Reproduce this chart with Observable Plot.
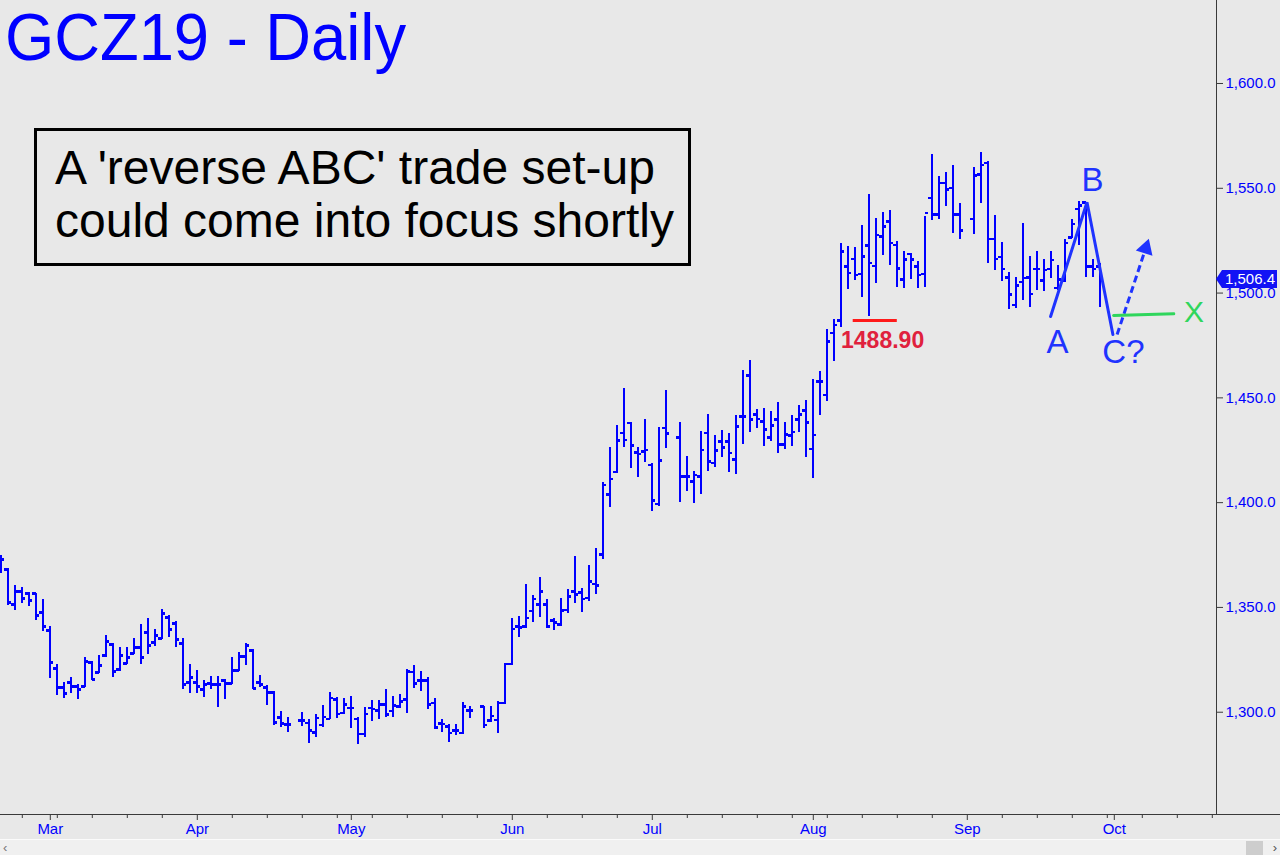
<!DOCTYPE html>
<html>
<head>
<meta charset="utf-8">
<script src="https://cdn.jsdelivr.net/npm/d3@7"></script>
<script src="https://cdn.jsdelivr.net/npm/@observablehq/plot@0.6"></script>
<style>
html,body{margin:0;padding:0;background:#e8e8e8;}
#wrap{position:relative;width:1280px;height:855px;overflow:hidden;background:#e8e8e8;font-family:"Liberation Sans",Arial,sans-serif;}
#wrap svg{position:absolute;left:0;top:0;}
#title{position:absolute;left:5px;top:3px;font-size:67px;line-height:67px;color:#0000ff;transform:scaleX(0.945);transform-origin:0 0;white-space:nowrap;}
#box{position:absolute;left:34px;top:128px;width:657px;height:138px;box-sizing:border-box;border:3px solid #000;padding:10px 0 0 18px;font-size:48px;line-height:53px;color:#000;white-space:nowrap;}
#price{position:absolute;left:1222px;width:55px;height:18px;background:#1212f5;color:#fff;font-size:15px;line-height:18px;padding-left:3px;box-sizing:border-box;}
#price:before{content:"";position:absolute;left:-6px;top:0;border-top:9px solid transparent;border-bottom:9px solid transparent;border-right:6px solid #1212f5;}
#sb{position:absolute;left:0;top:839px;width:1280px;height:16px;background:#f0f0f0;border-top:1px solid #fbfbfb;}
#sb .l{position:absolute;left:3px;top:0;font-size:13px;color:#777;}
#sb .r{position:absolute;right:3px;top:0;font-size:13px;color:#555;}
#sb .t{position:absolute;left:1246px;top:1px;width:17px;height:14px;background:#cdcdcd;}
#xline{position:absolute;left:0;top:814px;width:1280px;height:1px;background:#3a3a3a;}
</style>
</head>
<body>
<div id="wrap">
  <div id="xline"></div>
  <div id="title">GCZ19 - Daily</div>
  <div id="box">A 'reverse ABC' trade set-up<br>could come into focus shortly</div>
  <div id="sb"><span class="l">&lsaquo;</span><div class="t"></div><span class="r">&rsaquo;</span></div>
</div>
<script>
// ---- calendar (weekday slots; exchange holidays leave an empty slot) ----
const firstDay = "2019-02-20";
const lastSlotDay = "2019-10-22";
const holidays = ["2019-04-19", "2019-05-27", "2019-07-04", "2019-09-02"];
const monthLabels = ["Mar", "Apr", "May", "Jun", "Jul", "Aug", "Sep", "Oct"];

// ---- daily OHLC for GCZ19 (one value per trading day, Feb 20 .. Sep 27, 2019) ----
const opens = [
1374.3,1368.1,1351.4,1357.6,1356.6,1356.6,1347.5,1339.0,1320.8,1311.8,1314.2,1312.2,1312.2,1323.7,1318.9,1327.0,1332.3,1320.3,1323.2,1328.0,
1330.8,1338.0,1333.2,1335.1,1345.2,1342.3,1332.8,1314.2,1314.2,1310.8,1313.7,1313.2,1315.1,1313.7,1319.9,1326.6,1329.4,1314.2,1311.8,1309.4,
1297.4,1294.1,
1296.0,1294.9,1290.4,1294.0,1296.8,1306.0,1299.7,1302.1,1296.8,1289.7,1302.1,1300.8,1303.6,1300.5,1302.7,1306.0,1319.1,1315.1,1315.1,1304.3,
1294.7,1293.1,1291.2,1290.0,1300.8,
1302.7,1296.0,1296.3,1304.3,1323.1,1340.9,1340.9,1348.2,1351.4,1351.4,1343.7,1341.8,1348.8,1357.6,1357.2,1354.6,1361.2,1375.2,1403.9,1414.5,
1433.3,1438.1,1424.0,1424.5,1418.0,1399.4,1435.7,
1431.1,1412.4,1410.0,1412.4,1433.3,1418.8,1429.1,1429.1,1420.6,1441.1,1460.6,1442.0,1438.7,1431.1,1439.6,1427.7,1432.0,1439.6,1443.9,1425.7,
1457.8,1451.4,1481.0,1486.9,1512.6,1516.3,1509.2,1522.7,1512.8,1527.0,1534.1,1523.0,1506.4,1518.7,1512.6,1509.2,1545.4,1537.5,1552.4,1550.0,
1537.5,
1535.4,1556.5,1562.1,1525.9,1517.1,1507.5,1494.4,1505.2,1507.5,1511.5,1506.0,1511.5,1502.5,1506.0,1526.6,1540.2,1543.3,1512.6,1512.6
];
const highs = [
1374.7,1368.7,1360.4,1359.5,1357.1,1356.6,1353.7,1340.9,1322.7,1314.2,1316.5,1313.2,1326.1,1324.2,1327.0,1336.6,1332.8,1330.8,1330.8,1335.1,
1341.8,1344.7,1339.4,1349.0,1346.1,1343.3,1335.1,1322.7,1319.9,1315.1,1317.0,1317.0,1315.6,1326.1,1328.5,1332.8,1329.9,1317.5,1312.7,1309.9,
1300.3,1297.4,
1299.7,1296.5,1298.7,1303.2,1309.5,1306.8,1306.4,1307.5,1297.3,1302.1,1305.6,1305.6,1310.7,1307.5,1308.4,1320.2,1322.3,1319.4,1316.4,1306.7,
1296.5,1294.0,1294.0,1304.5,1302.7,
1302.8,1302.7,1305.2,1323.3,1344.5,1345.6,1360.9,1355.5,1364.1,1353.6,1344.5,1354.1,1358.4,1374.3,1358.9,1370.0,1377.9,1409.4,1426.1,1436.8,
1454.3,1438.3,1426.4,1439.5,1418.5,1435.7,1453.5,
1438.1,1422.0,1415.0,1433.9,1442.0,1432.0,1434.4,1433.0,1441.5,1463.0,1467.8,1444.4,1444.9,1443.5,1447.6,1438.2,1441.5,1446.3,1448.7,1458.7,
1462.5,1482.6,1487.4,1523.5,1522.2,1521.6,1532.2,1547.0,1535.4,1538.6,1539.4,1524.6,1519.8,1519.0,1515.0,1536.5,1566.1,1555.7,1557.4,1560.8,
1542.9,
1559.7,1566.9,1562.8,1537.0,1524.3,1509.7,1507.6,1533.0,1517.4,1519.9,1515.8,1519.9,1513.1,1525.4,1534.9,1543.8,1543.3,1515.8,1513.9
];
const lows = [
1366.2,1350.9,1348.5,1351.8,1350.4,1343.7,1338.5,1316.1,1307.9,1306.5,1308.9,1306.0,1311.8,1315.1,1318.4,1326.1,1316.5,1319.4,1322.7,1327.5,
1322.7,1327.5,1331.3,1334.7,1335.6,1330.8,1310.8,1308.9,1308.9,1307.0,1310.8,1302.2,1306.0,1313.2,1319.4,1322.3,1310.8,1311.8,1303.2,1293.6,
1292.7,1290.3,
1293.3,1285.2,1288.0,1292.8,1296.3,1297.1,1298.9,1292.1,1284.4,1287.8,1295.7,1296.3,1297.6,1297.6,1301.6,1299.5,1311.4,1310.0,1301.1,1291.6,
1290.4,1285.7,1288.9,1289.3,1296.8,
1292.1,1295.2,1290.0,1303.6,1322.3,1335.5,1339.8,1342.9,1345.0,1339.8,1339.0,1340.9,1347.1,1352.0,1347.7,1352.9,1356.0,1372.7,1397.5,1414.0,
1426.4,1416.1,1412.1,1419.3,1395.9,1398.3,1426.0,
1400.2,1405.4,1399.4,1403.7,1415.0,1416.9,1421.4,1414.5,1413.3,1427.6,1433.7,1435.2,1427.0,1429.1,1423.3,1425.2,1427.0,1433.7,1421.7,1411.6,
1441.5,1448.4,1467.5,1483.7,1501.5,1506.0,1498.0,1488.9,1504.4,1517.9,1513.1,1502.8,1502.3,1506.3,1502.0,1502.5,1534.6,1534.9,1541.4,1528.2,
1525.4,
1527.8,1542.6,1513.9,1510.7,1505.3,1492.0,1492.6,1496.4,1493.2,1501.2,1500.9,1506.8,1501.2,1505.2,1525.9,1522.7,1507.3,1507.5,1492.9
];
const closes = [
1372.8,1352.3,1357.6,1354.2,1353.3,1346.1,1340.9,1323.7,1311.8,1308.9,1312.2,1310.8,1324.2,1315.6,1322.3,1333.7,1319.4,1327.0,1326.1,1330.8,
1326.1,1331.8,1336.6,1347.1,1339.4,1334.7,1313.2,1316.5,1312.2,1313.2,1313.2,1313.2,1313.7,1319.9,1326.6,1331.8,1311.3,1313.2,1309.4,1295.1,
1294.6,1294.1,
1296.0,1291.2,1297.3,1297.6,1306.8,1299.2,1303.6,1302.1,1289.7,1299.2,1301.6,1303.6,1298.9,1303.2,1305.2,1319.5,1313.8,1315.1,1303.6,1292.8,
1294.4,1290.1,1291.2,1302.7,1300.8,
1294.0,1298.1,1304.3,1323.1,1339.8,1340.5,1345.0,1354.1,1357.6,1340.9,1342.9,1348.5,1355.2,1356.1,1354.1,1362.3,1360.4,1408.5,1411.3,1429.6,
1430.0,1427.2,1423.3,1425.2,1401.0,1420.1,1433.0,
1412.4,1412.4,1413.3,1425.2,1419.6,1424.8,1426.4,1423.8,1436.3,1441.1,1439.6,1440.0,1434.9,1436.8,1427.7,1432.5,1433.6,1442.0,1438.2,1432.3,
1457.8,1476.9,1484.8,1519.8,1509.6,1508.7,1517.4,1514.4,1527.8,1531.7,1524.0,1511.8,1516.0,1516.0,1508.7,1538.1,1537.5,1552.4,1549.4,1537.5,
1529.8,
1556.1,1561.2,1525.9,1516.3,1511.5,1499.3,1503.6,1507.3,1499.6,1511.5,1511.1,1515.8,1506.4,1523.8,1533.0,1541.8,1512.6,1511.5,1506.4
];

// ---- price axis ----
const priceTicks = [1300, 1350, 1400, 1450, 1500, 1550, 1600];
const lastPrice = 1506.4;

// ---- annotations (slot index, price) ----
const abcSlots = [149.9, 155.1, 158.8];
const abcPrices = [1488.8, 1543.3, 1480.2];
const abcLabels = ["A", "B", "C?"];
const abcLabelSlots = [150.9, 155.9, 160.3];
const abcLabelPrices = [1471.6, 1548.9, 1466.8];
const projSlots = [159.4, 163.7];
const projPrices = [1480.2, 1523.5];
const xLineSlots = [158.9, 167.5];
const xLinePrices = [1489.3, 1490.1];
const xLabel = {slot: 170.4, price: 1486.4, text: "X"};
const supportSlots = [121.7, 128.0];
const supportPrice = 1486.9;
const supportLabel = {slot: 125.9, price: 1474.0, text: "1488.90"};

// ---- build weekday slots ----
const parse = d3.utcParse("%Y-%m-%d");
const fmt = d3.utcFormat("%Y-%m-%d");
const weekdays = d3.utcDays(parse(firstDay), parse(lastSlotDay)).filter(d => d.getUTCDay() !== 0 && d.getUTCDay() !== 6);
const tradingSlots = weekdays.map((d, i) => ({d, i})).filter(o => !holidays.includes(fmt(o.d))).map(o => o.i);
const bars = opens.map((o, k) => ({slot: tradingSlots[k], open: o, high: highs[k], low: lows[k], close: closes[k]}));

const monthSlots = [];
weekdays.forEach((d, i) => {
  if (i > 0 && d.getUTCMonth() !== weekdays[i - 1].getUTCMonth()) monthSlots.push(i);
});
const mondaySlots = weekdays.map((d, i) => d.getUTCDay() === 1 ? i : null).filter(v => v !== null && !monthSlots.includes(v));
const monthName = new Map(monthSlots.map((s, k) => [s, monthLabels[k]]));

const xDomain = [-0.114, 173.6];
const BLUE = "#0000ff";
const ANN = "#1f33ff";
const GREEN = "#2fd65c";
const AXIS = "#3a3a3a";

const abc = abcSlots.map((s, k) => ({slot: s, price: abcPrices[k]}));
const abcText = abcLabels.map((t, k) => ({slot: abcLabelSlots[k], price: abcLabelPrices[k], text: t}));
const proj = {x1: projSlots[0], y1: projPrices[0], x2: projSlots[1], y2: projPrices[1]};
// stop the dashes just before the arrow head
const f = 0.88;
const projBody = [{x1: proj.x1, y1: proj.y1, x2: proj.x1 + (proj.x2 - proj.x1) * f, y2: proj.y1 + (proj.y2 - proj.y1) * f}];
const projHead = [{x: proj.x2 - (proj.x2 - proj.x1) * 0.05, y: proj.y2 - (proj.y2 - proj.y1) * 0.05}];
const greenLine = xLineSlots.map((s, k) => ({slot: s, price: xLinePrices[k]}));

const plot = Plot.plot({
  width: 1280,
  height: 839,
  marginLeft: 0,
  marginRight: 64,
  marginTop: 0,
  marginBottom: 25,
  style: {background: "transparent", fontFamily: "'Liberation Sans', Arial, sans-serif", overflow: "visible"},
  x: {type: "linear", domain: xDomain, axis: null},
  y: {domain: [1251.2, 1639.6], axis: null},
  marks: [
    // price bars
    Plot.ruleX(bars, {x: "slot", y1: "low", y2: "high", stroke: BLUE, strokeWidth: 2, shapeRendering: "crispEdges"}),
    Plot.ruleY(bars, {x1: d => d.slot - 0.5, x2: "slot", y: "open", stroke: BLUE, strokeWidth: 2.4, shapeRendering: "crispEdges"}),
    Plot.ruleY(bars, {x1: "slot", x2: d => d.slot + 0.5, y: "close", stroke: BLUE, strokeWidth: 2.4, shapeRendering: "crispEdges"}),
    // axes
    Plot.ruleX([xDomain[1]], {stroke: AXIS, strokeWidth: 1}),
    Plot.axisY({anchor: "right", ticks: priceTicks, tickFormat: d3.format(",.1f"), tickSize: 6, tickPadding: 3,
      stroke: AXIS, fill: BLUE, fontSize: 15, textAnchor: "start"}),
    Plot.axisX({anchor: "bottom", ticks: monthSlots, tickFormat: d => monthName.get(d), tickSize: 6, tickPadding: 3,
      stroke: AXIS, fill: BLUE, fontSize: 15}),
    Plot.axisX({anchor: "bottom", ticks: mondaySlots, tickFormat: () => "", tickSize: 4, stroke: AXIS}),
    // support line
    Plot.ruleY([supportPrice], {x1: supportSlots[0], x2: supportSlots[1], stroke: "#ff1a1a", strokeWidth: 3}),
    Plot.text([supportLabel], {x: "slot", y: "price", text: "text", fill: "#e0213d", fontSize: 23, fontWeight: "bold", lineAnchor: "bottom", textAnchor: "middle"}),
    // ABC
    Plot.line(abc, {x: "slot", y: "price", stroke: ANN, strokeWidth: 3, strokeLinejoin: "miter"}),
    Plot.link(projBody, {x1: "x1", y1: "y1", x2: "x2", y2: "y2", stroke: ANN, strokeWidth: 3, strokeDasharray: "7,4"}),
    Plot.dot(projHead, {x: "x", y: "y", symbol: "triangle", r: 6.5, fill: ANN, stroke: "none", rotate: 18}),
    Plot.line(greenLine, {x: "slot", y: "price", stroke: GREEN, strokeWidth: 3}),
    Plot.text(abcText, {x: "slot", y: "price", text: "text", fill: ANN, fontSize: 33, lineAnchor: "bottom", textAnchor: "middle"}),
    Plot.text([xLabel], {x: "slot", y: "price", text: "text", fill: GREEN, fontSize: 30, lineAnchor: "bottom", textAnchor: "middle"})
  ]
});

const wrap = document.getElementById("wrap");
wrap.insertBefore(plot, wrap.firstChild);

// last price marker
const yPx = plot.scale("y").apply(lastPrice);
const pb = document.createElement("div");
pb.id = "price";
pb.textContent = d3.format(",.1f")(lastPrice);
pb.style.top = (yPx - 9) + "px";
wrap.appendChild(pb);
</script>
</body>
</html>
